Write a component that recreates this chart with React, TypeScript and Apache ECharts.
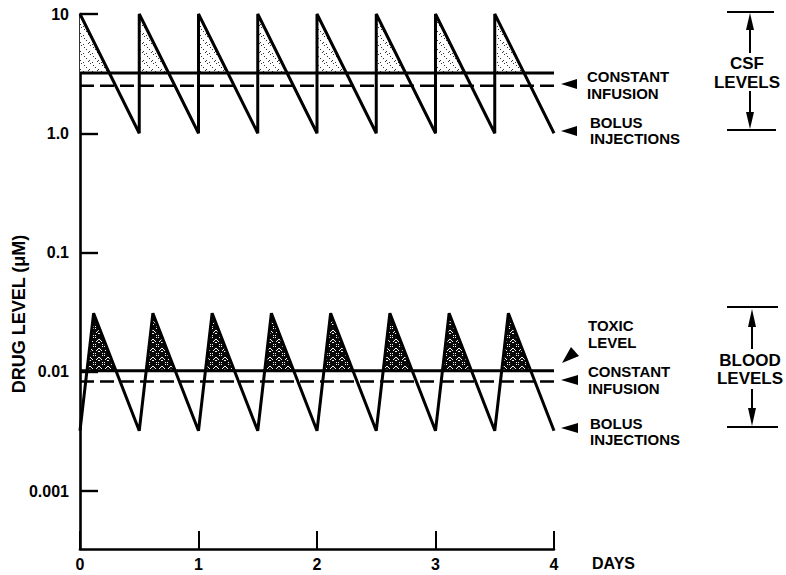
import React, { useEffect, useRef } from "react";
import * as echarts from "echarts";

// ---------- data ----------
const xTicks = [0, 1, 2, 3, 4];
const yTickValues = [0.001, 0.01, 0.1, 1, 10];
const yTickLabels = ["0.001", "0.01", "0.1", "1.0", "10"];

// CSF bolus injections (sawtooth)
const csfBolusT = [0, 0.5, 0.5, 1, 1, 1.5, 1.5, 2, 2, 2.5, 2.5, 3, 3, 3.5, 3.5, 4];
const csfBolusV = [10, 1, 10, 1, 10, 1, 10, 1, 10, 1, 10, 1, 10, 1, 10, 1];
const csfUpperLevel = 3.2;
const csfInfusionLevel = 2.5;

// Blood bolus injections (sawtooth)
const bloodBolusT = [0, 0.115, 0.5, 0.615, 1, 1.115, 1.5, 1.615, 2, 2.115, 2.5, 2.615, 3, 3.115, 3.5, 3.615, 4];
const bloodBolusV = [0.0032, 0.031, 0.0032, 0.031, 0.0032, 0.031, 0.0032, 0.031, 0.0032, 0.031, 0.0032, 0.031, 0.0032, 0.031, 0.0032, 0.031, 0.0032];
const bloodToxicLevel = 0.0102;
const bloodInfusionLevel = 0.0083;

const lineSpan = [0, 4];

// ---------- helpers ----------
const FONT = '"Liberation Sans", Arial, Helvetica, sans-serif';
const NARROW = '"Liberation Sans Narrow", "Liberation Sans", Arial, sans-serif';

function abovePolys(ts: number[], vs: number[], level: number) {
  const lg = Math.log10;
  const polys: number[][][] = [];
  let cur: number[][] | null = null;
  for (let i = 0; i < ts.length; i++) {
    const above = vs[i] > level;
    if (i > 0) {
      const prevAbove = vs[i - 1] > level;
      if (above !== prevAbove) {
        const f = (lg(level) - lg(vs[i - 1])) / (lg(vs[i]) - lg(vs[i - 1]));
        const tc = ts[i - 1] + f * (ts[i] - ts[i - 1]);
        if (above) {
          cur = [[tc, level]];
        } else if (cur) {
          cur.push([tc, level]);
          polys.push(cur);
          cur = null;
        }
      }
    } else if (above) {
      cur = [[ts[0], level]];
    }
    if (above && cur) cur.push([ts[i], vs[i]]);
  }
  if (cur) {
    cur.push([ts[ts.length - 1], level]);
    polys.push(cur);
  }
  return polys;
}

function makePattern(dark: boolean) {
  const c = document.createElement("canvas");
  const n = 9;
  c.width = n;
  c.height = n;
  const ctx = c.getContext("2d")!;
  ctx.fillStyle = dark ? "#0a0a0a" : "#fff";
  ctx.fillRect(0, 0, n, n);
  for (let x = 0; x < n; x++) {
    for (let y = 0; y < n; y++) {
      const h = (x * 7 + y * 13 + x * y * 5) % 11;
      if (dark && h < 2) {
        ctx.fillStyle = "#f4f4f4";
        ctx.fillRect(x, y, 1, 1);
      }
      if (!dark && h === 0) {
        ctx.fillStyle = "#333";
        ctx.fillRect(x, y, 1, 1);
      }
    }
  }
  return c;
}

const zip = (a: number[], b: number[]) => a.map((t, i) => [t, b[i]]);
const flat = (v: number) => lineSpan.map((t) => [t, v]);

export default function App() {
  const ref = useRef<HTMLDivElement>(null);
  useEffect(() => {
    const chart = echarts.init(ref.current!, null, { renderer: "svg" });
    const csfPolys = abovePolys(csfBolusT, csfBolusV, csfUpperLevel);
    const bloodPolys = abovePolys(bloodBolusT, bloodBolusV, bloodToxicLevel);
    const lightPat = makePattern(false);
    const darkPat = makePattern(true);

    const shade = (polys: number[][][], pat: HTMLCanvasElement) => ({
      type: "custom",
      z: 1,
      silent: true,
      clip: true,
      data: polys.map((p) => p[0]),
      renderItem: (params: any, api: any) => {
        const poly = polys[params.dataIndex];
        return {
          type: "polygon",
          shape: { points: poly.map((p) => api.coord(p)) },
          style: { fill: { image: pat, repeat: "repeat" }, stroke: null },
        };
      },
    });

    const solid = (data: number[][]) => ({
      type: "line",
      z: 3,
      data,
      symbol: "none",
      silent: true,
      lineStyle: { color: "#000", width: 3, join: "miter", cap: "butt" },
    });
    const dashed = (data: number[][]) => ({
      type: "line",
      z: 3,
      data,
      symbol: "none",
      silent: true,
      lineStyle: { color: "#000", width: 2.6, type: [14, 6] },
    });

    const txt = (text: string, x: number, y: number, size = 15, align = "left") => ({
      type: "text",
      x,
      y,
      style: {
        text,
        font: `bold ${size}px ${FONT}`,
        fill: "#000",
        align,
        textAlign: align,
        verticalAlign: "middle",
        textVerticalAlign: "middle",
        lineHeight: size,
      },
    });
    const tri = (points: number[][]) => ({
      type: "polygon",
      shape: { points },
      style: { fill: "#000" },
    });
    const seg = (x1: number, y1: number, x2: number, y2: number) => ({
      type: "line",
      shape: { x1, y1, x2, y2 },
      style: { stroke: "#000", lineWidth: 2 },
    });

    const option: any = {
      animation: false,
      backgroundColor: "#fff",
      grid: { left: 80, right: 232, top: 14, bottom: 26, containLabel: false },
      xAxis: {
        type: "value",
        min: xTicks[0],
        max: xTicks[xTicks.length - 1],
        interval: 1,
        axisLine: { onZero: false, lineStyle: { color: "#000", width: 2.6 } },
        axisTick: { inside: true, length: 18, lineStyle: { color: "#000", width: 2 } },
        axisLabel: { color: "#000", fontWeight: "bold", fontSize: 16, fontFamily: NARROW, margin: 7 },
        splitLine: { show: false },
      },
      yAxis: {
        type: "log",
        logBase: 10,
        min: Math.pow(10, -3.486),
        max: 10,
        axisLine: { lineStyle: { color: "#000", width: 2.6 } },
        axisTick: { inside: true, length: 18, customValues: yTickValues, lineStyle: { color: "#000", width: 2.4 } },
        axisLabel: {
          customValues: yTickValues,
          color: "#000",
          fontWeight: "bold",
          fontSize: 16,
          fontFamily: FONT,
          margin: 11,
          formatter: (v: number) => {
            let best = 0;
            yTickValues.forEach((tv, i) => {
              if (Math.abs(Math.log10(tv) - Math.log10(v)) < Math.abs(Math.log10(yTickValues[best]) - Math.log10(v))) best = i;
            });
            return yTickLabels[best];
          },
        },
        splitLine: { show: false },
      },
      series: [
        shade(csfPolys, lightPat),
        shade(bloodPolys, darkPat),
        solid(zip(csfBolusT, csfBolusV)),
        solid(flat(csfUpperLevel)),
        dashed(flat(csfInfusionLevel)),
        solid(zip(bloodBolusT, bloodBolusV)),
        solid(flat(bloodToxicLevel)),
        dashed(flat(bloodInfusionLevel)),
      ],
      graphic: [
        {
          type: "text",
          x: 19,
          y: 314,
          rotation: Math.PI / 2,
          style: {
            text: "DRUG LEVEL (μM)",
            font: `bold 18px ${FONT}`,
            fill: "#000",
            align: "center",
            textAlign: "center",
            verticalAlign: "middle",
            textVerticalAlign: "middle",
          },
        },
        txt("DAYS", 592, 563, 16),
        // CSF annotations
        txt("CONSTANT", 587, 76, 15),
        txt("INFUSION", 587, 93, 15),
        tri([[561, 84], [577, 79], [577, 89]]),
        txt("BOLUS", 590, 122, 15),
        txt("INJECTIONS", 590, 138, 15),
        tri([[561, 131], [577, 126], [577, 136]]),
        // Blood annotations
        txt("TOXIC", 588, 325, 15),
        txt("LEVEL", 588, 342, 15),
        tri([[562, 363], [571, 347], [579, 356]]),
        txt("CONSTANT", 588, 371, 15),
        txt("INFUSION", 588, 388, 15),
        tri([[561, 380], [578, 375], [578, 385]]),
        txt("BOLUS", 590, 423, 15),
        txt("INJECTIONS", 590, 439, 15),
        tri([[561, 428], [578, 423], [578, 433]]),
        // CSF bracket
        seg(727, 12, 774, 12),
        seg(750, 28, 750, 53),
        tri([[750, 13], [746, 30], [754, 30]]),
        txt("CSF", 747, 63, 17, "center"),
        txt("LEVELS", 747, 82, 17, "center"),
        seg(750, 91, 750, 114),
        tri([[750, 129], [746, 112], [754, 112]]),
        seg(727, 130, 776, 130),
        // Blood bracket
        seg(727, 307, 778, 307),
        seg(752, 325, 752, 349),
        tri([[752, 309], [748, 327], [756, 327]]),
        txt("BLOOD", 750, 360, 17, "center"),
        txt("LEVELS", 750, 378, 17, "center"),
        seg(752, 389, 752, 410),
        tri([[752, 426], [748, 408], [756, 408]]),
        seg(727, 427, 778, 427),
      ],
    };
    chart.setOption(option);
    return () => chart.dispose();
  }, []);
  return <div ref={ref} style={{ position: "fixed", left: 0, top: 0, width: 786, height: 575 }} />;
}
